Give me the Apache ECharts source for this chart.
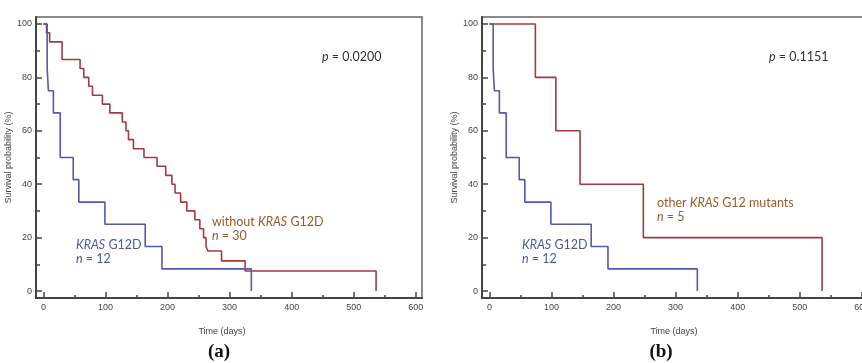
<!DOCTYPE html>
<html>
<head>
<meta charset="UTF-8">
<title>KRAS survival</title>
<script src="https://cdn.jsdelivr.net/npm/echarts@6/dist/echarts.min.js"></script>
<style>
  html, body { margin: 0; padding: 0; background: #fff; }
  #main { width: 862px; height: 363px; }
</style>
</head>
<body>
<div id="main"></div>
<script>
// data: [day, survival %]
var redA = [[0,100],[5,96.7],[10,93.3],[30,86.7],[59,83.3],[65,80],[73,76.7],[79,73.3],[95,70],[107,66.7],
  [127,63.3],[133,60],[137,56.7],[145,53.3],[162,50],[183,46.7],[197,43.3],[207,40],[212,36.7],[221,33.3],
  [231,30],[244,26.7],[252,23.3],[258,20],[262,16.7],[265,15],[287,11.3],[325,7.5],[536,0]];
var blueKras = [[0,100],[6,83.3],[8,75],[16,66.7],[27,50],[48,41.7],[57,33.3],[99,25],[164,16.7],[191,8.3],[335,0]];
var redB = [[0,100],[74,80],[107,60],[146,40],[248,20],[536,0]];

var xMajor = [0,100,200,300,400,500,600];
var xMinor = [50,150,250,350,450,550];
var yMajor = [0,20,40,60,80,100];
var yMinor = [10,30,50,70,90];

var RED = '#a33a42', BLUE = '#5557b0';
var TXT_RED = '#9c5a2c', TXT_BLUE = '#4f5b96';
var AX = '#444';

var myChart = echarts.init(document.getElementById('main'));

var grids = [
  { left: 36, top: 17, width: 386, height: 281 },
  { left: 482, top: 17, width: 386, height: 281 }
];

var xAxes = [], yAxes = [];
grids.forEach(function (g, i) {
  g.show = true;
  g.borderColor = '#666';
  g.borderWidth = 1.5;
  g.outerBoundsMode = 'none';   // panel b runs past the right edge, like the source
  g.containLabel = false;
  // main x axis
  xAxes.push({
    type: 'value', gridIndex: i, min: -12, max: 610, position: 'bottom',
    axisLine: { onZero: false, lineStyle: { color: AX, width: 2 } },
    axisTick: { inside: true, length: 6, customValues: xMajor, lineStyle: { color: AX, width: 1.5 } },
    axisLabel: { customValues: xMajor, fontSize: 9, color: AX, margin: 5, fontFamily: 'Liberation Sans' },
    splitLine: { show: false }
  });
  // minor ticks
  xAxes.push({
    type: 'value', gridIndex: i, min: -12, max: 610, position: 'bottom', offset: 0,
    axisLine: { show: false, onZero: false },
    axisTick: { inside: true, length: 3, customValues: xMinor, lineStyle: { color: AX, width: 1.5 } },
    axisLabel: { show: false },
    splitLine: { show: false }
  });
  yAxes.push({
    type: 'value', gridIndex: i, min: -2.6, max: 102.6, position: 'left',
    name: 'Survival probability (%)', nameLocation: 'middle', nameGap: 19,
    nameTextStyle: { fontSize: 9, color: AX, fontFamily: 'Liberation Sans' },
    axisLine: { onZero: false, lineStyle: { color: AX, width: 2 } },
    axisTick: { inside: true, length: 6, customValues: yMajor, lineStyle: { color: AX, width: 1.5 } },
    axisLabel: { customValues: yMajor, fontSize: 9, color: AX, margin: 4, fontFamily: 'Liberation Sans' },
    splitLine: { show: false }
  });
  yAxes.push({
    type: 'value', gridIndex: i, min: -2.6, max: 102.6, position: 'left', offset: 0,
    axisLine: { show: false, onZero: false },
    axisTick: { inside: true, length: 4, customValues: yMinor, lineStyle: { color: AX, width: 1.5 } },
    axisLabel: { show: false },
    splitLine: { show: false }
  });
});

function km(data, color, panel) {
  return {
    type: 'line', step: 'end', data: data, symbol: 'none',
    xAxisIndex: panel * 2, yAxisIndex: panel * 2,
    lineStyle: { color: color, width: 1.6 }, silent: true, animation: false
  };
}

var rich = { i: { fontStyle: 'italic', fontFamily: 'Lato', fontSize: 12.5 } };
function note(x, y, text, color) {
  return {
    type: 'text', x: x, y: y,
    style: { text: text, fill: color, fontFamily: 'Lato', fontSize: 12.5,
      verticalAlign: 'middle', rich: rich }
  };
}
function centred(x, y, text, font, color) {
  return {
    type: 'text', x: x, y: y,
    style: { text: text, fill: color, font: font, align: 'center', verticalAlign: 'middle' }
  };
}

var option = {
  animation: false,
  grid: grids,
  xAxis: xAxes,
  yAxis: yAxes,
  series: [
    km(redA, RED, 0), km(blueKras, BLUE, 0),
    km(redB, RED, 1), km(blueKras, BLUE, 1)
  ],
  graphic: [
    note(322, 57, '{i|p} = 0.0200', '#333'),
    note(769, 57, '{i|p} = 0.1151', '#333'),
    note(212, 222, 'without {i|KRAS} G12D', TXT_RED),
    note(212, 236, '{i|n} = 30', TXT_RED),
    note(76, 245, '{i|KRAS} G12D', TXT_BLUE),
    note(76, 259, '{i|n} = 12', TXT_BLUE),
    note(522, 245, '{i|KRAS} G12D', TXT_BLUE),
    note(522, 259, '{i|n} = 12', TXT_BLUE),
    note(657, 203, 'other {i|KRAS} G12 mutants', TXT_RED),
    note(657, 217, '{i|n} = 5', TXT_RED),
    centred(222, 332, 'Time (days)', '9px "Liberation Sans"', AX),
    centred(674, 332, 'Time (days)', '9px "Liberation Sans"', AX),
    centred(219, 352, '(a)', 'bold 19px "Liberation Serif"', '#111'),
    centred(661, 352, '(b)', 'bold 19px "Liberation Serif"', '#111')
  ]
};

myChart.setOption(option);
</script>
</body>
</html>
